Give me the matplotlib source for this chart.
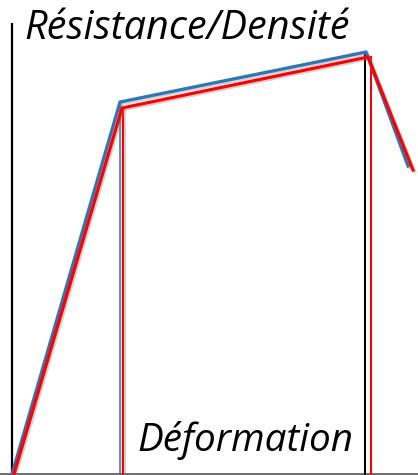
import matplotlib
matplotlib.use("Agg")
import matplotlib.pyplot as plt
import matplotlib.patheffects as pe

# Data (strain, resistance) in chart units
blue_x = [12, 120, 366, 408]
blue_y = [1, 373, 423, 309]
red_x = [14, 122, 368, 413]
red_y = [1, 367, 418, 305]

# vertical markers (strain positions)
blue_vline_x = 120
red_vline1_x = 123
black_vline_x = 365
red_vline2_x = 370.5

y_label = "Résistance/Densité"
x_label = "Déformation"

fig = plt.figure(figsize=(4.18, 4.75), dpi=100)
ax = fig.add_axes([0, 0, 1, 1])
ax.set_xlim(0, 418)
ax.set_ylim(0, 475)
ax.axis("off")

shadow = [pe.SimpleLineShadow(offset=(1.2, -1.2), shadow_color="gray", alpha=0.35), pe.Normal()]

# axes
ax.plot([12, 12], [1, 452], color="black", lw=1.6, solid_capstyle="butt")
ax.plot([0, 418], [1.5, 1.5], color="#555555", lw=1.2)

# verticals
ax.plot([blue_vline_x, blue_vline_x], [1, blue_y[1]], color="#2e75b6", lw=1.1, path_effects=shadow)
ax.plot([red_vline1_x, red_vline1_x], [1, red_y[1]], color="#ff0000", lw=1.5, path_effects=shadow)
ax.plot([black_vline_x, black_vline_x], [1, blue_y[2]], color="black", lw=1.5)
ax.plot([red_vline2_x, red_vline2_x], [1, red_y[2]], color="#ff0000", lw=1.5)

# curves
ax.plot(blue_x, blue_y, color="#2e75b6", lw=2.3, path_effects=shadow, solid_joinstyle="miter")
ax.plot(red_x, red_y, color="#ff0000", lw=2.3, path_effects=shadow, solid_joinstyle="miter")

ax.text(24, 446, y_label, fontsize=28.5, style="italic", family="Open Sans", va="center", ha="left")
ax.text(137, 34, x_label, fontsize=27.8, style="italic", family="Open Sans", va="center", ha="left")

fig.savefig("out.png", dpi=100)
